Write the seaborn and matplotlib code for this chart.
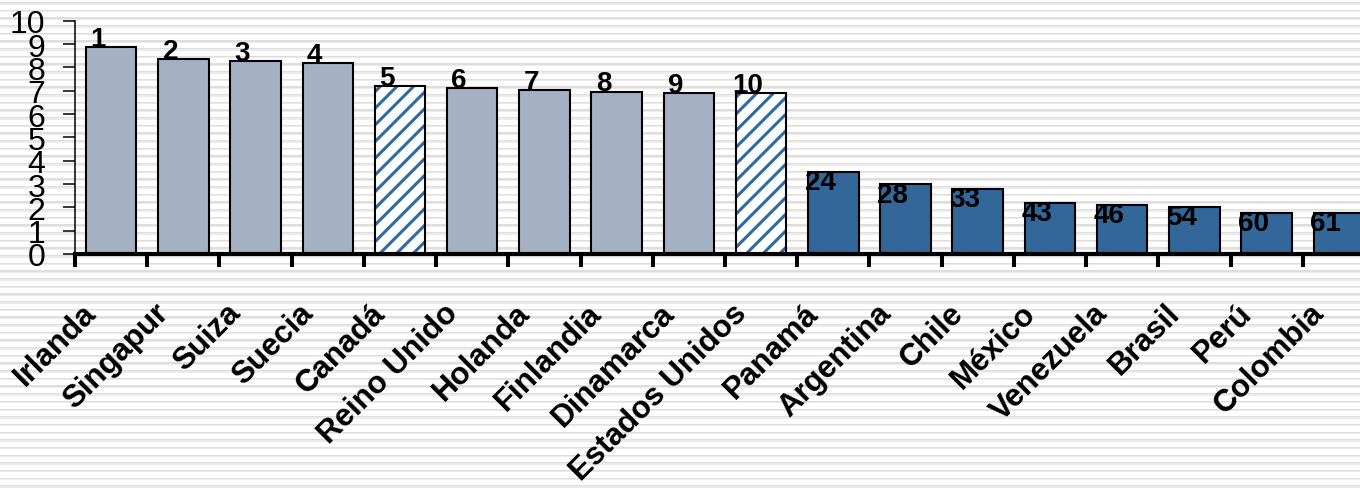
import numpy as np
import pandas as pd
import matplotlib
matplotlib.use("Agg")
import matplotlib.pyplot as plt
import matplotlib.transforms as mtransforms
from matplotlib.patches import Rectangle
import seaborn as sns

paises = ["Irlanda", "Singapur", "Suiza", "Suecia", "Canadá", "Reino Unido",
          "Holanda", "Finlandia", "Dinamarca", "Estados Unidos", "Panamá",
          "Argentina", "Chile", "México", "Venezuela", "Brasil", "Perú", "Colombia"]
puntaje = [8.87, 8.34, 8.27, 8.17, 7.20, 7.12, 7.04, 6.96, 6.88, 6.88,
           3.52, 2.98, 2.80, 2.20, 2.11, 2.02, 1.76, 1.76]
ranking = [1, 2, 3, 4, 5, 6, 7, 8, 9, 10, 24, 28, 33, 43, 46, 54, 60, 61]
grupo = ["Avanzado", "Avanzado", "Avanzado", "Avanzado", "Norteamérica",
         "Avanzado", "Avanzado", "Avanzado", "Avanzado", "Norteamérica"] + ["Latinoamérica"] * 8

colores = {"Avanzado": "#A3B1C2", "Norteamérica": "white", "Latinoamérica": "#336699"}
azul_trama = "#2F6AA3"

sns.set_style("white")
plt.rcParams["font.family"] = ["Liberation Sans", "DejaVu Sans"]
plt.rcParams["hatch.linewidth"] = 2.2
plt.rcParams["text.color"] = "black"
plt.rcParams["xtick.color"] = "black"
plt.rcParams["ytick.color"] = "black"

df = pd.DataFrame({"pais": paises, "puntaje": puntaje, "grupo": grupo})

W, H = 1360, 489
fig = plt.figure(figsize=(W / 100, H / 100), dpi=100)

# fondo rayado horizontal
bg = fig.add_axes([0, 0, 1, 1], zorder=-5)
filas = np.arange(H)
fase = (filas - 2.5) % 7.67
rayas = np.where(fase < 1.2, 0.87, np.where(fase < 2.6, 0.92, 1.0))
bg.imshow(np.tile(rayas[:, None], (1, 4)), cmap="gray", vmin=0, vmax=1,
          aspect="auto", interpolation="nearest", extent=[0, 1, 0, 1])
bg.axis("off")

left, right = 75 / W, 1375 / W
bottom, top = (H - 255) / H, (H - 21.7) / H
ax = fig.add_axes([left, bottom, right - left, top - bottom])
ax.set_facecolor("none")

sns.barplot(data=df, x="pais", y="puntaje", hue="grupo", palette=colores,
            dodge=False, width=0.7, edgecolor="black", linewidth=1.5,
            saturation=1, legend=False, ax=ax)

# barras con trama (Canadá, Estados Unidos)
for p in list(ax.patches):
    idx = int(round(p.get_x() + p.get_width() / 2))
    if grupo[idx] == "Norteamérica":
        p.set_facecolor("white")
        p.set_hatch("//")
        p.set_edgecolor(azul_trama)
        p.set_linewidth(0)
        ax.add_patch(Rectangle(p.get_xy(), p.get_width(), p.get_height(),
                               fill=False, edgecolor="black", linewidth=1.5, zorder=3))

# etiquetas de ranking
for i, (v, r) in enumerate(zip(puntaje, ranking)):
    if r <= 10:
        ax.text(i - 0.18, v + 0.05, str(r), ha="center", va="baseline",
                fontsize=20, fontweight="bold", color="black", zorder=5)
    else:
        ax.text(i - 0.18, v + 0.12, str(r), ha="center", va="top",
                fontsize=20, fontweight="bold", color="black", zorder=5)

ax.set_xlim(-0.5, len(paises) - 0.5)
ax.set_ylim(0, 10)
ax.set_yticks(range(0, 11))
ax.set_xlabel("")
ax.set_ylabel("")

for s in ["top", "right"]:
    ax.spines[s].set_visible(False)
ax.spines["left"].set_linewidth(1.1)
ax.spines["left"].set_color("black")
ax.spines["bottom"].set_linewidth(3)
ax.spines["bottom"].set_color("black")
ax.spines["bottom"].set_zorder(6)

ax.set_xticks(np.arange(-0.5, len(paises), 1), minor=True)
ax.tick_params(axis="x", which="minor", bottom=True, length=9.5, width=2.9,
               color="black", direction="out")
ax.tick_params(axis="x", which="major", bottom=True, length=0, pad=39, labelcolor="black")
ax.tick_params(axis="y", left=True, length=8.5, width=1.1, color="black", direction="out",
               pad=13, labelsize=23, labelcolor="black")

ax.set_xticks(range(len(paises)))
ax.set_xticklabels(paises, rotation=45, ha="right", va="center",
                   rotation_mode="anchor", fontsize=22.5, fontweight="bold")
desplaza = mtransforms.ScaledTranslation(-19 / 100, 0, fig.dpi_scale_trans)
for lab in ax.get_xticklabels():
    lab.set_transform(lab.get_transform() + desplaza)

fig.savefig("out.png", dpi=100)
